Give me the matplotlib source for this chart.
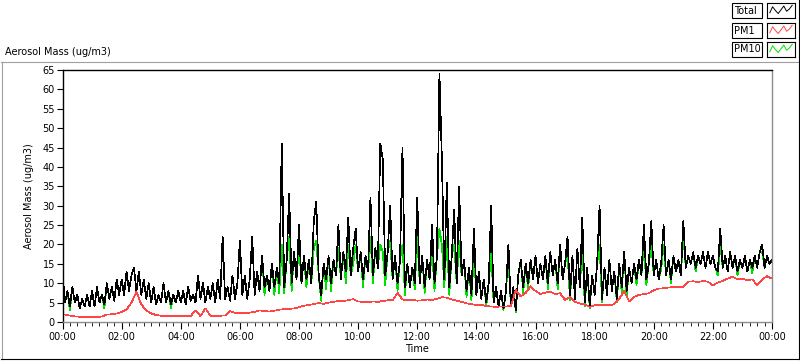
import numpy as np
import matplotlib
matplotlib.use("Agg")
import matplotlib.pyplot as plt
from matplotlib.patches import Rectangle
from matplotlib.lines import Line2D
from matplotlib.ticker import MultipleLocator, FuncFormatter

# Total aerosol mass, 5-minute samples from 00:00 to 24:00 (ug/m3)
total = [
    13, 5, 8, 4, 9, 5, 7, 3.5, 6, 4, 7, 4,             # 00
    8, 4, 9, 5, 7, 4.5, 10, 6, 9, 5.5, 11, 7,          # 01
    11, 7, 13, 8, 12, 14, 8, 13, 7, 11, 6, 10,         # 02
    5, 9, 4.5, 7, 5, 10, 5, 8, 4.5, 7, 5, 8,           # 03
    5, 8, 4.5, 9, 5.5, 7, 5, 12, 6, 10, 5, 9,          # 04
    6, 10, 5, 11, 6, 22, 6, 9, 5.5, 12, 6, 10,         # 05
    21, 7, 12, 6, 11, 22, 7, 13, 8, 17, 9, 12,         # 06
    8, 15, 9, 14, 10, 46, 9, 16, 33, 10, 18, 11,       # 07
    25, 10, 17, 11, 16, 10, 26, 31, 12, 7, 15, 11,     # 08
    17, 10, 16, 12, 25, 11, 18, 13, 27, 12, 19, 24,    # 09
    13, 18, 11, 17, 13, 32, 12, 19, 14, 46, 42, 12,    # 10
    18, 30, 11, 17, 10, 16, 45, 9, 15, 9, 14, 10,      # 11
    32, 10, 17, 9, 16, 11, 25, 10, 17, 64, 42, 11,     # 12
    36, 9, 17, 29, 10, 35, 12, 16, 8, 14, 7, 24,       # 13
    7, 13, 6, 11, 5, 10, 30, 5, 9, 4, 8, 3.5,          # 14
    8, 20, 4, 9, 3, 12, 16, 9, 15, 10, 16, 11,         # 15
    17, 10, 15, 11, 17, 10, 18, 12, 16, 10, 20, 11,    # 16
    15, 22, 7, 17, 6, 19, 9, 27, 5, 14, 4, 12,         # 17
    7, 15, 30, 6, 14, 7, 16, 8, 13, 6, 15, 9,          # 18
    18, 8, 14, 10, 15, 11, 16, 12, 25, 11, 15, 26,     # 19
    12, 16, 11, 15, 25, 12, 16, 11, 17, 13, 16, 12,    # 20
    26, 14, 17, 15, 18, 14, 17, 15, 18, 14, 18, 15,    # 21
    17, 14, 13, 24, 14, 17, 13, 18, 14, 17, 13, 16,    # 22
    14, 17, 13, 16, 14, 17, 14, 18, 20, 14, 17, 15,    # 23
    16,
]

# PM10, same 5-minute samples
pm10 = [
    13, 5, 8, 3, 9, 5, 7, 3.5, 6, 4, 7, 4,
    8, 4, 9, 5, 7, 3.5, 10, 6, 9, 5.5, 11, 7,
    11, 7, 13, 8, 12, 14, 8, 13, 7, 11, 6, 10,
    5, 9, 4.5, 7, 5, 10, 5, 8, 3.5, 7, 5, 8,
    5, 8, 4.5, 9, 5.5, 7, 5, 12, 6, 10, 5, 9,
    6, 10, 5, 11, 6, 22, 6, 9, 5.5, 12, 6, 10,
    21, 7, 12, 6, 11, 22, 7, 13, 8, 17, 7, 12,
    8, 15, 7, 14, 7.5, 20, 7.5, 16, 22, 8, 18, 11,
    20, 10, 17, 9, 16, 10, 19, 21, 12, 5.5, 15, 8.5,
    17, 8, 16, 12, 19, 11, 18, 10, 20, 12, 15, 20,
    13, 18, 9, 17, 13, 22, 10, 19, 14, 20, 18, 9.5,
    18, 21, 11, 17, 8, 16, 20, 7, 15, 9, 14, 8.5,
    22, 10, 17, 7.5, 16, 11, 19, 8, 17, 24, 20, 9,
    22, 7, 17, 20, 10, 21, 12, 16, 6.5, 14, 5.5, 18,
    7, 13, 6, 11, 4, 10, 18, 5, 9, 4, 8, 3,
    8, 16, 4, 9, 2.5, 12, 16, 7.5, 15, 8.5, 16, 11,
    17, 10, 15, 11, 17, 8.5, 18, 12, 16, 8.5, 20, 11,
    15, 18, 5.5, 17, 6, 19, 9, 20, 4, 14, 3.5, 12,
    7, 15, 20, 5, 14, 7, 16, 8, 13, 5, 15, 7.5,
    18, 6.5, 14, 10, 15, 9.5, 16, 12, 20, 9.5, 15, 20,
    12, 16, 11, 13.5, 20, 12, 16, 10, 17, 13, 16, 12,
    22, 14, 17, 15, 18, 13, 17, 15, 18, 14, 18, 15,
    17, 14, 12, 20, 14, 17, 13, 18, 14, 17, 12, 16,
    14, 17, 13, 16, 12.5, 17, 14, 18, 18, 14, 17, 15,
    16,
]

# PM1, 10-minute samples
pm1 = [
    2.0, 1.8, 1.5, 1.4, 1.3, 1.3,
    1.3, 1.3, 1.4, 1.9, 2.0, 2.2,
    2.6, 3.2, 5.0, 7.8, 4.5, 3.0,
    2.2, 1.8, 1.6, 1.5, 1.5, 1.5,
    1.5, 1.5, 1.5, 3.0, 1.5, 3.5,
    1.6, 1.6, 1.6, 1.7, 2.8, 2.4,
    2.4, 2.3, 2.4, 2.6, 3.0, 2.8,
    2.7, 2.9, 3.2, 3.3, 3.4, 3.5,
    3.8, 4.2, 4.4, 4.6, 4.9, 4.7,
    5.0, 5.2, 5.4, 5.4, 5.6, 5.9,
    5.3, 5.2, 5.1, 5.3, 5.2, 5.4,
    5.6, 5.6, 7.5, 5.8, 5.6, 5.7,
    5.5, 5.6, 5.8, 5.7, 6.0, 6.4,
    6.3, 5.8, 5.5, 5.2, 4.8, 4.6,
    4.4, 4.4, 4.1, 4.0, 3.9, 4.0,
    4.0, 4.1, 8.2, 6.6, 7.5, 9.2,
    8.0, 7.2, 7.6, 7.8, 7.2, 7.4,
    5.7, 6.5, 5.2, 4.8, 4.5, 3.9,
    4.3, 4.4, 4.3, 4.3, 4.6, 6.0,
    8.0, 5.3, 6.5, 7.0, 7.2, 7.4,
    8.2, 8.6, 8.7, 8.9, 9.0, 9.0,
    9.0, 10.4, 10.5, 10.3, 10.6, 10.4,
    9.4, 10.2, 10.6, 11.2, 11.7, 11.0,
    11.2, 10.8, 11.0, 9.5, 11.0, 11.8,
    11.2,
]

legend_names = ["Total", "PM1", "PM10"]
legend_colors = ["black", "#ff4646", "#00e000"]

t_5 = np.arange(len(total)) * 5 / 60
t_10 = np.arange(len(pm1)) * 10 / 60

W, H = 800, 361
fig = plt.figure(figsize=(W / 100, H / 100), dpi=100)
fig.patch.set_facecolor("white")
plt.rcParams["font.family"] = "DejaVu Sans"


def fx(x):
    return x / W


def fy(y):
    return 1 - y / H


def hline(x0, x1, y, color):
    fig.add_artist(Line2D([fx(x0), fx(x1)], [fy(y), fy(y)], transform=fig.transFigure,
                          color=color, lw=0.8))


def vline(x, y0, y1, color):
    fig.add_artist(Line2D([fx(x), fx(x)], [fy(y0), fy(y1)], transform=fig.transFigure,
                          color=color, lw=0.8))


# outer panel frame
hline(1, 798, 62, "#a0a0a0")
vline(1.5, 62, 359, "#a0a0a0")
hline(1, 798.5, 359, "black")
vline(798.5, 0, 359, "black")

ax = fig.add_axes([fx(62.5), fy(322), (772 - 62.5) / W, (322 - 70) / H])
ax.plot(t_5, pm10, color=legend_colors[2], lw=0.5, antialiased=False)
ax.plot(t_5, total, color=legend_colors[0], lw=0.5, antialiased=False)
ax.plot(t_10, pm1, color=legend_colors[1], lw=0.5, antialiased=False)

ax.set_xlim(0, 24)
ax.set_ylim(0, 65)
ax.yaxis.set_major_locator(MultipleLocator(5))
ax.xaxis.set_major_locator(MultipleLocator(2))
ax.xaxis.set_minor_locator(MultipleLocator(0.25))
ax.xaxis.set_major_formatter(FuncFormatter(lambda v, p: "%02d:00" % (int(round(v)) % 24)))
ax.tick_params(axis="both", labelsize=7, direction="out", color="black", width=0.8)
ax.tick_params(axis="y", length=4, pad=1.5)
ax.tick_params(axis="x", which="major", length=5, pad=2)
ax.tick_params(axis="x", which="minor", length=3)

for side in ["left", "top"]:
    ax.spines[side].set_color("black")
    ax.spines[side].set_linewidth(1.0)
for side in ["right", "bottom"]:
    ax.spines[side].set_color("#8c8c8c")
    ax.spines[side].set_linewidth(1.0)

ax.set_xlabel("Time", fontsize=7, labelpad=2)
ax.set_ylabel("Aerosol Mass (ug/m3)", fontsize=7, labelpad=6)

fig.text(fx(5), fy(52), "Aerosol Mass (ug/m3)", fontsize=7, ha="left", va="center")

# legend in the top right corner
row_tops = [3, 23, 42]
zig = [0.35, 0.75, 0.5, 0.3, 0.55, 0.8, 0.45, 0.6, 0.85]
for name, color, top in zip(legend_names, legend_colors, row_tops):
    fig.add_artist(Rectangle((fx(732), fy(top + 15)), 30 / W, 15 / H, transform=fig.transFigure,
                             fill=False, edgecolor="black", lw=0.8))
    fig.text(fx(734), fy(top + 7.5), name, fontsize=7, ha="left", va="center")
    sax = fig.add_axes([fx(767), fy(top + 15), 28 / W, 15 / H])
    sax.plot(np.linspace(0.1, 0.9, len(zig)), zig, color=color, lw=0.7)
    sax.set_xlim(0, 1)
    sax.set_ylim(0, 1)
    sax.set_xticks([])
    sax.set_yticks([])
    for s in sax.spines.values():
        s.set_linewidth(0.8)
        s.set_color("black")

fig.savefig("out.png", dpi=100)
